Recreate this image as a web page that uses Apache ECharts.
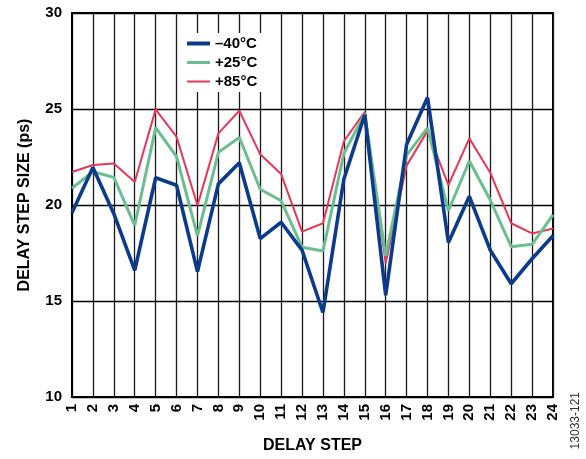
<!DOCTYPE html>
<html>
<head>
<meta charset="utf-8">
<script src="https://cdn.jsdelivr.net/npm/echarts@6/dist/echarts.min.js"></script>
<style>
html,body{margin:0;padding:0;background:#fff;}
#c{width:586px;height:459px;}
</style>
</head>
<body>
<div id="c"></div>
<script>
const steps = ['1','2','3','4','5','6','7','8','9','10','11','12','13','14','15','16','17','18','19','20','21','22','23','24'];
const seriesNames = ['\u201340\u00B0C', '+25\u00B0C', '+85\u00B0C'];
const m40 = [19.6, 21.95, 19.55, 16.6, 21.42, 21.03, 16.53, 21.1, 22.2, 18.25, 19.1, 17.65, 14.4, 21.35, 24.7, 15.3, 23.15, 25.6, 18.05, 20.45, 17.65, 15.9, 17.2, 18.4];
const p25 = [20.87, 21.73, 21.44, 18.93, 24.03, 22.52, 18.39, 22.74, 23.52, 20.82, 20.22, 17.8, 17.6, 22.68, 24.75, 17.35, 22.6, 24.02, 19.7, 22.29, 20.26, 17.83, 17.95, 19.48];
const p85 = [21.72, 22.08, 22.16, 21.2, 24.98, 23.55, 19.97, 23.73, 24.91, 22.64, 21.61, 18.61, 19.05, 23.32, 24.85, 16.97, 22.05, 23.86, 21.04, 23.47, 21.68, 19.05, 18.52, 18.78];
const yTicks = [10, 15, 20, 25, 30];

const FONT = '"Liberation Sans", Arial, Helvetica, sans-serif';
const chart = echarts.init(document.getElementById('c'), null, {renderer: 'canvas'});
chart.setOption({
  animation: false,
  backgroundColor: '#fff',
  grid: {left: 72, right: 33, top: 13, bottom: 62, show: true, borderColor: '#000', borderWidth: 2, backgroundColor: 'transparent'},
  legend: {
    orient: 'vertical', left: 185, top: 33,
    itemWidth: 23, itemHeight: 14, itemGap: 4,
    symbolKeepAspect: true,
    backgroundColor: '#fff', padding: [3, 6, 3, 2],
    textStyle: {fontFamily: FONT, fontWeight: 'bold', fontSize: 15, color: '#000'},
    data: [
      {name: seriesNames[0], icon: 'path://M0,0H23V4H0Z'},
      {name: seriesNames[1], icon: 'path://M0,0H23V3H0Z'},
      {name: seriesNames[2], icon: 'path://M0,0H23V2H0Z'}
    ]
  },
  xAxis: {
    type: 'category', data: steps, boundaryGap: false,
    name: 'DELAY STEP', nameLocation: 'middle', nameGap: 41,
    nameTextStyle: {fontFamily: FONT, fontWeight: 'bold', fontSize: 16, color: '#000'},
    axisLine: {lineStyle: {color: '#000', width: 2}},
    axisTick: {show: false},
    axisLabel: {rotate: 90, margin: 7, fontFamily: FONT, fontWeight: 'bold', fontSize: 15, color: '#000', interval: 0},
    splitLine: {show: true, lineStyle: {color: '#1a1a1a', width: 1.3}}
  },
  yAxis: {
    type: 'value', min: yTicks[0], max: yTicks[yTicks.length - 1], interval: 5,
    name: 'DELAY STEP SIZE (ps)', nameLocation: 'middle', nameGap: 39,
    nameTextStyle: {fontFamily: FONT, fontWeight: 'bold', fontSize: 16, color: '#000'},
    axisLine: {show: true, lineStyle: {color: '#000', width: 2}},
    axisTick: {show: false},
    axisLabel: {margin: 10, fontFamily: FONT, fontWeight: 'bold', fontSize: 15, color: '#000'},
    splitLine: {show: true, lineStyle: {color: '#000', width: 1.3}}
  },
  series: [
    {name: seriesNames[2], type: 'line', data: p85, symbol: 'none', z: 3, lineStyle: {color: '#e6385a', width: 2}, itemStyle: {color: '#e6385a'}},
    {name: seriesNames[1], type: 'line', data: p25, symbol: 'none', z: 4, lineStyle: {color: '#6cbd91', width: 3}, itemStyle: {color: '#6cbd91'}},
    {name: seriesNames[0], type: 'line', data: m40, symbol: 'none', z: 5, lineStyle: {color: '#0c3b8c', width: 3.6}, itemStyle: {color: '#0c3b8c'}}
  ],
  graphic: [{
    type: 'text', left: 570, top: 392, rotation: Math.PI / 2,
    style: {text: '13033-121', font: 'normal 12px ' + FONT, fill: '#333'}
  }]
});
</script>
</body>
</html>
